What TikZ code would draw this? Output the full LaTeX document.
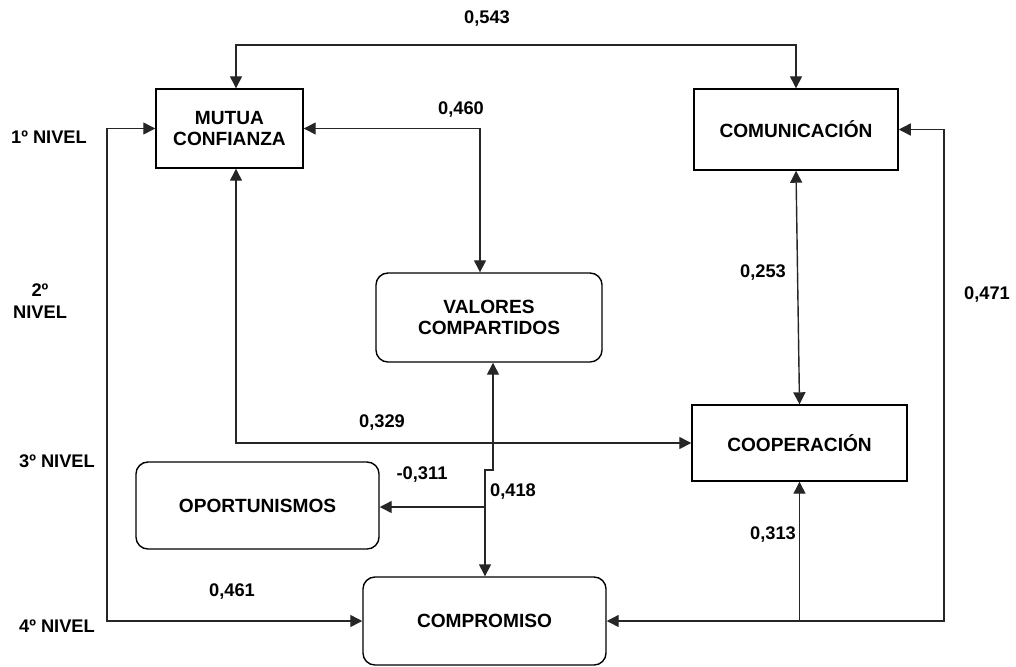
\documentclass[tikz,border=0pt]{standalone}
\usepackage{fontspec}
\setmainfont{Liberation Sans}
\usetikzlibrary{arrows.meta}

\tikzset{
  caja/.style={draw, line width=1pt, inner sep=0pt, align=center,
    font=\bfseries\fontsize{13.6}{15}\selectfont},
  cajar/.style={caja, rounded corners=0.3cm},
  valor/.style={inner sep=0pt, font=\bfseries\fontsize{13}{15}\selectfont},
  nivel/.style={valor, align=center, font=\bfseries\fontsize{13}{16}\selectfont},
  flecha/.style={line width=1pt, black!85, -{Triangle[length=0.3cm,width=0.3cm]}},
  doble/.style={line width=1pt, black!85,
    {Triangle[length=0.3cm,width=0.3cm]}-{Triangle[length=0.3cm,width=0.3cm]}},
}

\begin{document}
\begin{tikzpicture}[x=0.025cm, y=-0.025cm]
\useasboundingbox (0,0) rectangle (1016,666);

% niveles
\node[nivel] (niv1) at (49,137) {1º NIVEL};
\node[nivel] (niv2) at (40,301) {2º\\NIVEL};
\node[nivel] (niv3) at (57,461) {3º NIVEL};
\node[nivel] (niv4) at (57,626) {4º NIVEL};

% cajas
\node[caja, minimum width=3.675cm, minimum height=1.975cm] (conf) at (229.5,128.5) {MUTUA\\CONFIANZA};
\node[caja, minimum width=5.1cm, minimum height=2.025cm] (comu) at (796,129.5) {COMUNICACIÓN};
\node[cajar, minimum width=5.65cm, minimum height=2.225cm] (valores) at (489,317.5) {VALORES\\COMPARTIDOS};
\node[caja, minimum width=5.375cm, minimum height=1.9cm] (coop) at (799.5,443) {COOPERACIÓN};
\node[cajar, minimum width=6.075cm, minimum height=2.175cm] (opor) at (257.5,505.5) {OPORTUNISMOS};
\node[cajar, minimum width=6.075cm, minimum height=2.2cm] (compr) at (484.5,621) {COMPROMISO};

% puntos de paso
\coordinate (t1) at (236,45);
\coordinate (v1) at (480,130);
\coordinate (r1) at (944,0);
\coordinate (l1) at (107,0);
\coordinate (j1) at (493,470);
\coordinate (j2) at (485,470);
\coordinate (b1) at (485,507);

% relaciones
\draw[doble] (conf.north -| t1) -- (t1) -| (comu.north);
\draw[doble] (conf.east) -| (v1 |- valores.north);
\draw[doble] (conf.south -| t1) |- (coop.west);
\draw[doble] (comu.south) -- (coop.north);
\draw[doble] (compr.east) -| (r1 |- comu.east) -- (comu.east);
\draw[flecha] (coop.south |- compr.east) -- (coop.south);
\draw[doble] (conf.west) -- (l1 |- conf.west) -- (l1 |- compr.west) -- (compr.west);
\draw[doble] (valores.south -| j1) -- (j1) -- (j2) -- (compr.north -| j2);
\draw[flecha] (b1) -- (b1 -| opor.east);

% coeficientes
\node[valor] (c543) at (487,19) {0,543};
\node[valor] (c460) at (461,110) {0,460};
\node[valor] (c253) at (763,273) {0,253};
\node[valor] (c471) at (987,295) {0,471};
\node[valor] (c329) at (382,423) {0,329};
\node[valor] (c311) at (422,475) {-0,311};
\node[valor] (c418) at (513,492) {0,418};
\node[valor] (c313) at (773,535) {0,313};
\node[valor] (c461) at (232,592) {0,461};

\end{tikzpicture}
\end{document}
